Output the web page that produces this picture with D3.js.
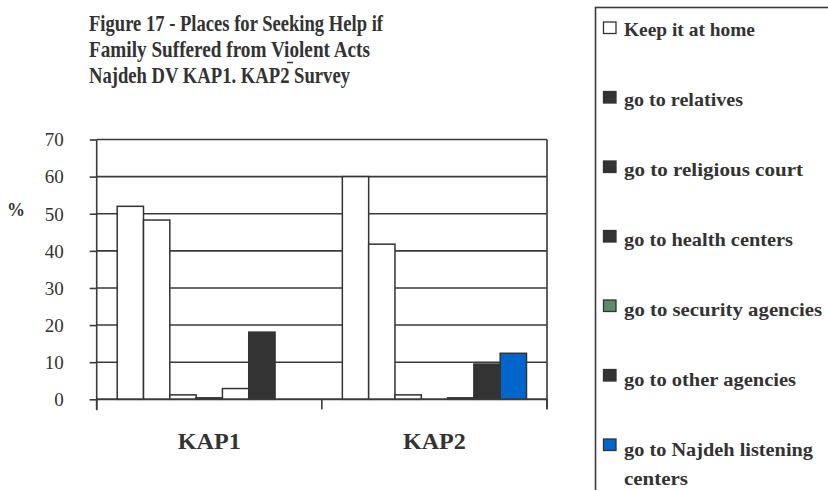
<!DOCTYPE html>
<html>
<head>
<meta charset="utf-8">
<script src="https://cdn.jsdelivr.net/npm/d3@7"></script>
<style>
  html, body { margin: 0; padding: 0; background: #fff; }
  svg { display: block; }
  text { font-family: "Liberation Serif", "Times New Roman", Times, Tinos, "DejaVu Serif", "Noto Serif", serif; fill: #333; }
</style>
</head>
<body>
<svg id="chart" width="828" height="490"></svg>
<script>
// ---- data ----
const titleLines = [
  "Figure 17 - Places for Seeking Help if",
  "Family Suffered from Violent Acts",
  "Najdeh DV KAP1. KAP2 Survey"
];
const categories = ["KAP1", "KAP2"];
const seriesNames = [
  "Keep it at home",
  "go to relatives",
  "go to religious court",
  "go to health centers",
  "go to security agencies",
  "go to other agencies",
  "go to Najdeh listening centers"
];
const kap1Values = [52, 48.3, 1.2, 0.4, 2.9, 18.1, 0];
const kap2Values = [60, 41.8, 1.2, 0, 0.4, 9.5, 12.4];
const barFills = ["#ffffff", "#ffffff", "#ffffff", "#333333", "#ffffff", "#333333", "#0066cc"];
const legendFills = ["#ffffff", "#333333", "#333333", "#333333", "#5b8c68", "#333333", "#0066cc"];
const yTicks = [0, 10, 20, 30, 40, 50, 60, 70];
const yLabel = "%";

const values = { KAP1: kap1Values, KAP2: kap2Values };

(function () {
const FONT = '"Liberation Serif", "Times New Roman", Times, Tinos, "DejaVu Serif", "Noto Serif", serif';
const svg = d3.select("#chart");

// fit a text element to a target width (measured from the reference)
function fit(sel, w) {
  sel.attr("textLength", w).attr("lengthAdjust", "spacingAndGlyphs");
}

// ---- title ----
const titleLen = [294, 281, 261];
const title = svg.append("g");
titleLines.forEach((t, i) => {
  title.append("text")
    .attr("x", 89).attr("y", 31 + i * 26)
    .attr("font-family", FONT)
    .attr("font-size", 24).attr("font-weight", "bold")
    .text(t).call(fit, titleLen[i]);
});
title.append("line").attr("x1", 287).attr("x2", 293).attr("y1", 62.5).attr("y2", 62.5)
  .attr("stroke", "#333").attr("stroke-width", 1.5);

// ---- scales ----
const pLeft = 96.7, pRight = 547, pTop = 139.5, pBottom = 399.3;
const x0 = d3.scaleBand().domain(categories).range([pLeft, pRight]).paddingInner(0).paddingOuter(0);
const x1 = d3.scaleBand().domain(d3.range(seriesNames.length)).range([20.5, x0.bandwidth() - 20.5]).padding(0);
const y = d3.scaleLinear().domain([0, 70]).range([pBottom, pTop]);

const lineColor = "#3a3a3a";

// gridlines
svg.append("g").selectAll("line").data(yTicks).join("line")
  .attr("x1", pLeft).attr("x2", pRight)
  .attr("y1", d => y(d)).attr("y2", d => y(d))
  .attr("stroke", lineColor).attr("stroke-width", 1.6);

// right border
svg.append("line").attr("x1", pRight).attr("x2", pRight).attr("y1", y(70)).attr("y2", pBottom + 10)
  .attr("stroke", lineColor).attr("stroke-width", 1.6);

// bars
const bars = svg.append("g");
categories.forEach(c => {
  const g = bars.append("g").attr("transform", `translate(${x0(c)},0)`);
  g.selectAll("rect")
    .data(values[c].map((v, i) => ({ v, i })).filter(d => d.v > 0))
    .join("rect")
    .attr("x", d => x1(d.i))
    .attr("y", d => y(d.v))
    .attr("width", x1.bandwidth())
    .attr("height", d => y(0) - y(d.v))
    .attr("fill", d => barFills[d.i])
    .attr("stroke", "#333")
    .attr("stroke-width", 1.5);
});

// y axis
const yAxis = d3.axisLeft(y).tickValues(yTicks).tickSize(7).tickPadding(26);
const yg = svg.append("g").attr("transform", `translate(${pLeft},0)`).call(yAxis);
yg.select(".domain").remove();
yg.selectAll(".tick line").attr("stroke", lineColor).attr("stroke-width", 1.6);
yg.selectAll(".tick text").attr("font-size", 19).attr("fill", "#333")
  .attr("font-family", FONT).attr("dy", "0.33em");
svg.append("line").attr("x1", pLeft).attr("x2", pLeft).attr("y1", y(70)).attr("y2", pBottom + 11)
  .attr("stroke", lineColor).attr("stroke-width", 1.6);

// x axis
const xAxis = d3.axisBottom(x0).tickSize(0).tickPadding(33);
const xg = svg.append("g").attr("transform", `translate(0,${pBottom})`).call(xAxis);
xg.select(".domain").remove();
xg.selectAll(".tick text").attr("font-size", 23).attr("font-weight", "bold").attr("fill", "#333")
  .attr("font-family", FONT).call(fit, 63);
const bounds = categories.map(c => x0(c)).concat([x0.range()[1]]);
svg.append("g").selectAll("line").data(bounds).join("line")
  .attr("x1", d => d).attr("x2", d => d).attr("y1", pBottom).attr("y2", pBottom + 10)
  .attr("stroke", lineColor).attr("stroke-width", 1.6);
svg.append("line").attr("x1", pLeft).attr("x2", pRight).attr("y1", pBottom).attr("y2", pBottom)
  .attr("stroke", lineColor).attr("stroke-width", 1.8);

// y label
svg.append("text").attr("x", 16).attr("y", 216).attr("text-anchor", "middle")
  .attr("font-family", FONT)
  .attr("font-size", 18).attr("font-weight", "bold").text(yLabel);

// ---- legend ----
const legendLen = [131, 119, 179, 169, 198, 172, 189];
const lg = svg.append("g");
lg.append("rect").attr("x", 595.5).attr("y", 7.5).attr("width", 300).attr("height", 600)
  .attr("fill", "none").attr("stroke", lineColor).attr("stroke-width", 1.6);
seriesNames.forEach((name, i) => {
  const sy = 22 + i * 69.5;
  lg.append("rect").attr("x", 603.5).attr("y", sy).attr("width", 12.5).attr("height", 11.5)
    .attr("fill", legendFills[i]).attr("stroke", "#333").attr("stroke-width", 1.3);
  const base = 36 + i * 70;
  const addText = (t, yy, w) => lg.append("text").attr("x", 624).attr("y", yy)
    .attr("font-family", FONT).attr("font-size", 19).attr("font-weight", "bold").text(t).call(fit, w);
  if (name === "go to Najdeh listening centers") {
    addText("go to Najdeh listening", base, legendLen[i]);
    addText("centers", base + 29, 64);
  } else {
    addText(name, base, legendLen[i]);
  }
});
})();
</script>
</body>
</html>
